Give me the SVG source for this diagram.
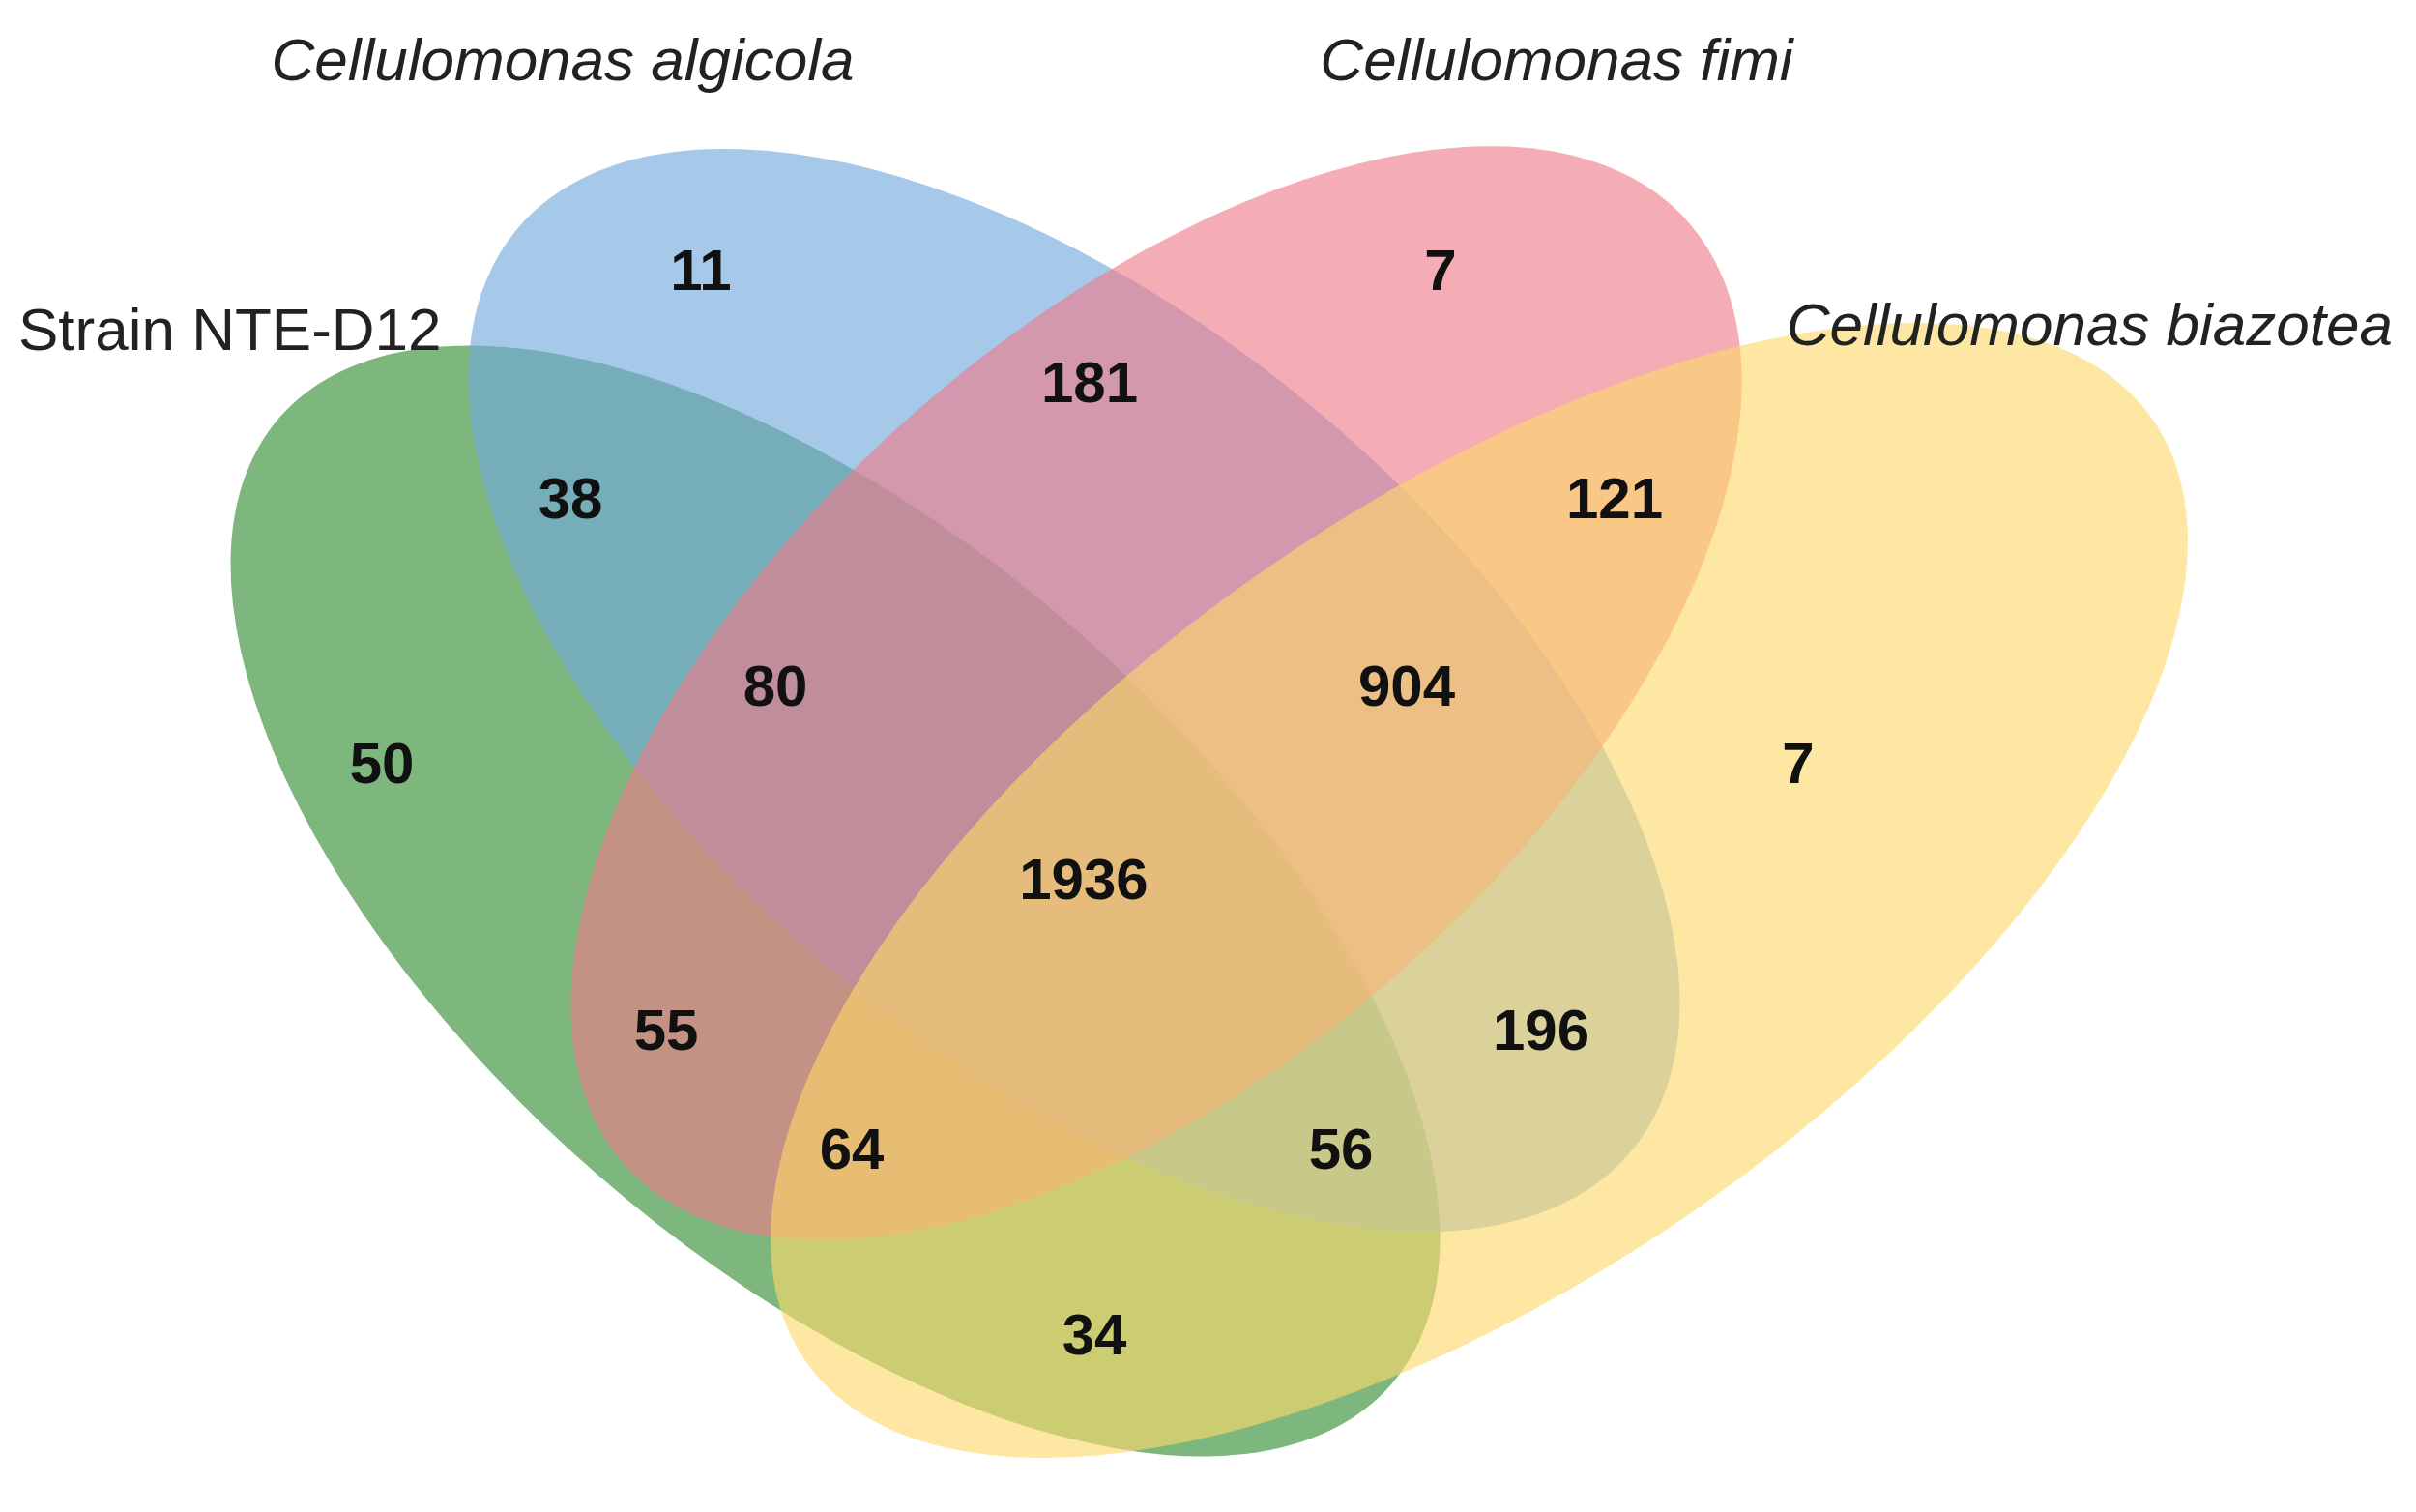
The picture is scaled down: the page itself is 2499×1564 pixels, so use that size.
<svg xmlns="http://www.w3.org/2000/svg" width="2499" height="1564" viewBox="0 0 2499 1564">
<style>
.n{font-family:"Liberation Sans",Arial,sans-serif;font-weight:bold;font-size:60px;fill:#111;text-anchor:middle;dominant-baseline:central}
.t{font-family:"Liberation Sans",Arial,sans-serif;font-size:62px;fill:#222;dominant-baseline:central}
.e{opacity:0.62}
</style>
<rect width="2499" height="1564" fill="#fff"/>
<g id="green"><ellipse class="e" cx="864" cy="932" rx="762" ry="375" transform="rotate(41 864 932)" fill="#2f8a2f"/></g>
<g id="blue"><ellipse class="e" cx="1111" cy="714" rx="748" ry="383" transform="rotate(39.5 1111 714)" fill="#6fa6dc"/></g>
<g id="pink"><ellipse class="e" cx="1196" cy="717" rx="735" ry="383" transform="rotate(-41.6 1196 717)" fill="#ef7a88"/></g>
<g id="yellow"><ellipse class="e" cx="1530" cy="921" rx="850" ry="399" transform="rotate(-35 1530 921)" fill="#fcd96a"/></g>
<g id="labels">
<text class="t" x="582" y="61" text-anchor="middle" font-style="italic">Cellulomonas algicola</text>
<text class="t" x="1610" y="61" text-anchor="middle" font-style="italic">Cellulomonas fimi</text>
<text class="t" x="19" y="340">Strain NTE-D12</text>
<text class="t" x="2475" y="335" text-anchor="end" font-style="italic">Cellulomonas biazotea</text>
</g>
<g id="counts">
<text class="n" x="725" y="279">11</text>
<text class="n" x="1490" y="279">7</text>
<text class="n" x="1127" y="395">181</text>
<text class="n" x="590" y="515">38</text>
<text class="n" x="1670" y="515">121</text>
<text class="n" x="802" y="709">80</text>
<text class="n" x="1455" y="709">904</text>
<text class="n" x="395" y="789">50</text>
<text class="n" x="1860" y="789">7</text>
<text class="n" x="1121" y="909">1936</text>
<text class="n" x="689" y="1065">55</text>
<text class="n" x="1594" y="1065">196</text>
<text class="n" x="881" y="1188">64</text>
<text class="n" x="1387" y="1188">56</text>
<text class="n" x="1132" y="1380">34</text>
</g>
<g id="connectors"></g>
</svg>
